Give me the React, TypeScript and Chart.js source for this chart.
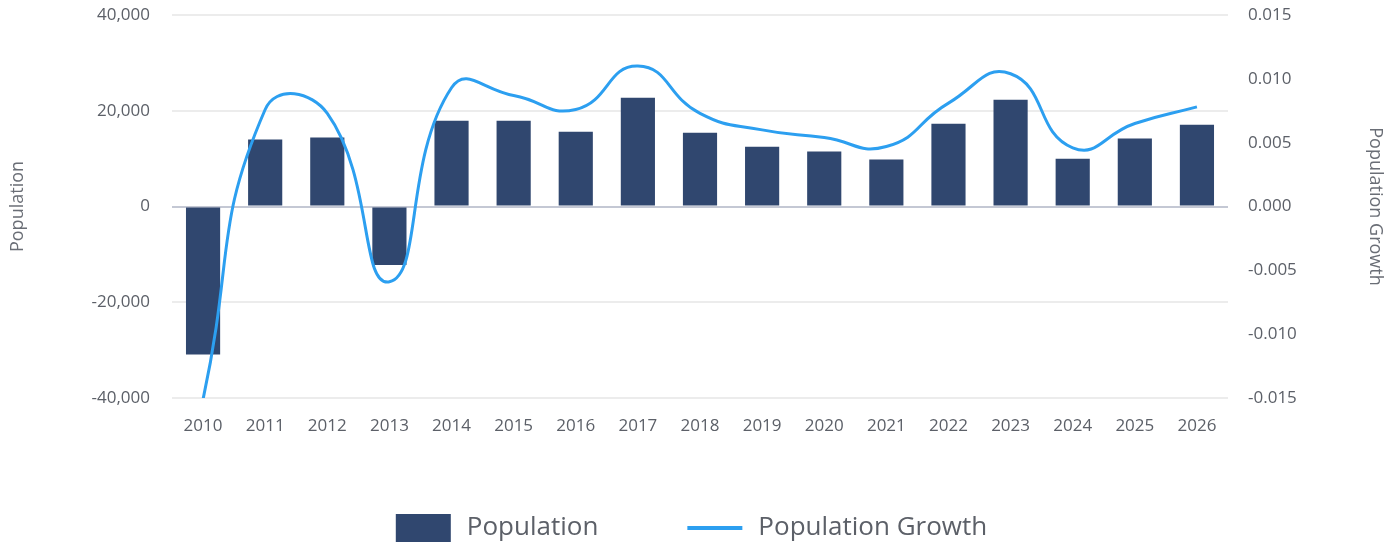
import React, { useEffect, useRef } from "react";
import { Chart, registerables } from "chart.js";

Chart.register(...registerables);

const years = ["2010","2011","2012","2013","2014","2015","2016","2017","2018","2019","2020","2021","2022","2023","2024","2025","2026"];
const population = [-30900, 14000, 14400, -12200, 17900, 17900, 15600, 22700, 15400, 12500, 11500, 9800, 17300, 22300, 10000, 14200, 17100];
const growth = [-0.0151, 0.0076, 0.0073, -0.0059, 0.0093, 0.0087, 0.0076, 0.0110, 0.0073, 0.0060, 0.0054, 0.0047, 0.0081, 0.0104, 0.0046, 0.0065, 0.0078];

const leftTicks = [-40000, -20000, 0, 20000, 40000];
const rightTicks = [-0.015, -0.01, -0.005, 0, 0.005, 0.01, 0.015];

const FONT = "'Open Sans', sans-serif";
const BAR_COLOR = "#30476f";
const LINE_COLOR = "#2c9ff0";
const TEXT = "#5c6068";

const legendPlugin = {
  id: "customLegend",
  afterDraw(chart: any) {
    const ctx = chart.ctx;
    const items = [
      { text: "Population", type: "box" },
      { text: "Population Growth", type: "line" },
    ];
    ctx.save();
    ctx.font = `26px ${FONT}`;
    const swW = 55;
    const gapText = 16;
    const gapItem = 89;
    const widths = items.map((it) => ctx.measureText(it.text).width);
    const total = widths.reduce((a, w) => a + swW + gapText + w, 0) + gapItem;
    let x = chart.width / 2 - total / 2 - 7;
    const cy = 528;
    items.forEach((it, i) => {
      if (it.type === "box") {
        ctx.fillStyle = BAR_COLOR;
        ctx.fillRect(x, cy - 14, swW, 28);
      } else {
        ctx.strokeStyle = LINE_COLOR;
        ctx.lineWidth = 4;
        ctx.beginPath();
        ctx.moveTo(x, cy);
        ctx.lineTo(x + swW, cy);
        ctx.stroke();
      }
      ctx.fillStyle = TEXT;
      ctx.textBaseline = "middle";
      ctx.textAlign = "left";
      ctx.fillText(it.text, x + swW + gapText, cy);
      x += swW + gapText + widths[i] + gapItem;
    });
    ctx.restore();
  },
};

export default function App() {
  const ref = useRef<HTMLCanvasElement>(null);
  useEffect(() => {
    if (!ref.current) return;
    const chart = new Chart(ref.current, {
      type: "bar",
      data: {
        labels: years,
        datasets: [
          {
            type: "line",
            label: "Population Growth",
            data: growth,
            yAxisID: "y1",
            borderColor: LINE_COLOR,
            backgroundColor: LINE_COLOR,
            borderWidth: 3,
            pointRadius: 0,
            tension: 0.5,
            order: 0,
          } as any,
          {
            type: "bar",
            label: "Population",
            data: population,
            yAxisID: "y",
            backgroundColor: BAR_COLOR,
            categoryPercentage: 1,
            barPercentage: 0.55,
            order: 1,
          },
        ],
      },
      options: {
        responsive: false,
        animation: false,
        layout: { padding: { top: 15, bottom: 110, left: 0, right: 0 } },
        plugins: { legend: { display: false }, tooltip: { enabled: false } },
        scales: {
          x: {
            grid: { display: false },
            border: { display: false },
            ticks: { color: TEXT, font: { family: FONT, size: 17 }, padding: 10, maxRotation: 0 },
            afterFit: (s: any) => { s.height = 40; },
          },
          y: {
            position: "left",
            min: -40000,
            max: 40000,
            afterBuildTicks: (s: any) => { s.ticks = leftTicks.map((v) => ({ value: v })); },
            grid: {
              drawTicks: false,
              color: (c: any) => (c.tick && c.tick.value === 0 ? "#c4c8d4" : "#ececec"),
              lineWidth: 2,
            },
            border: { display: false },
            ticks: {
              color: TEXT,
              font: { family: FONT, size: 17 },
              padding: 22,
              callback: (v: any) => Number(v).toLocaleString("en-US"),
            },
            title: {
              display: true,
              text: "Population",
              color: "#6a6e76",
              font: { family: FONT, size: 18 },
              padding: { top: 7, bottom: 0 },
            },
            afterFit: (s: any) => { s.width = 172; s.paddingTop = 0; s.paddingBottom = 0; },
          },
          y1: {
            position: "right",
            min: -0.015,
            max: 0.015,
            afterBuildTicks: (s: any) => { s.ticks = rightTicks.map((v) => ({ value: v })); },
            grid: { display: false, drawTicks: false },
            border: { display: false },
            ticks: {
              color: TEXT,
              font: { family: FONT, size: 17 },
              padding: 20,
              callback: (v: any) => Number(v).toFixed(3),
            },
            title: {
              display: true,
              text: "Population Growth",
              color: "#6a6e76",
              font: { family: FONT, size: 18 },
              padding: { top: 11, bottom: 0 },
            },
            afterFit: (s: any) => { s.width = 169; s.paddingTop = 0; s.paddingBottom = 0; },
          },
        },
      },
      plugins: [legendPlugin],
    });
    return () => chart.destroy();
  }, []);
  return (
    <div style={{ position: "absolute", left: 0, top: 0, width: 1397, height: 548 }}>
      <canvas ref={ref} width={1397} height={548} style={{ width: 1397, height: 548 }} />
    </div>
  );
}
